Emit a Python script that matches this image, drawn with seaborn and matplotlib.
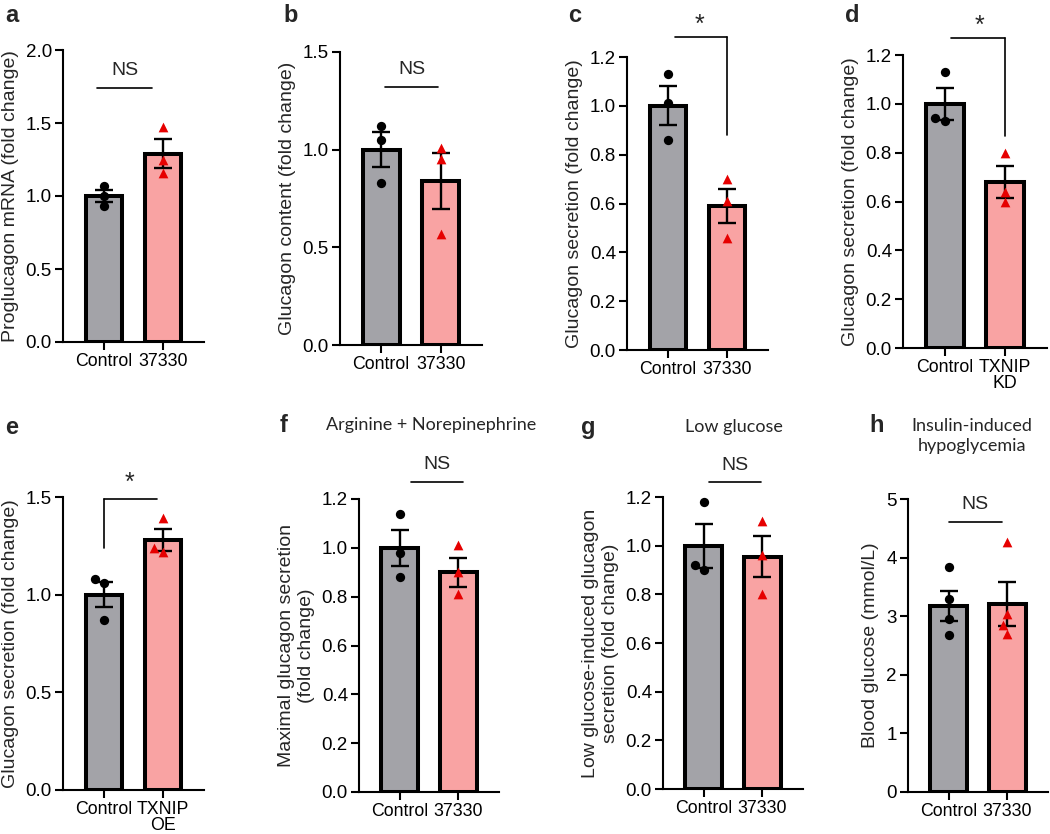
import matplotlib
matplotlib.use("Agg")
import matplotlib.pyplot as plt
import seaborn as sns
import numpy as np

sns.set_theme(style="ticks")
plt.rcParams['font.family'] = ['Liberation Sans', 'DejaVu Sans']

# ---- data (fold change, mean +/- SEM, individual points) ----
a_labels = ['Control', '37330']
a_ctrl = [1.07, 1.00, 0.93]
a_trt = [1.47, 1.25, 1.16]
a_means = [1.00, 1.29]
a_sems = [0.04, 0.10]

b_labels = ['Control', '37330']
b_ctrl = [1.12, 1.05, 0.83]
b_trt = [1.01, 0.95, 0.57]
b_means = [1.00, 0.84]
b_sems = [0.09, 0.145]

c_labels = ['Control', '37330']
c_ctrl = [1.13, 1.01, 0.86]
c_trt = [0.70, 0.61, 0.46]
c_means = [1.00, 0.59]
c_sems = [0.08, 0.07]

d_labels = ['Control', 'TXNIP\nKD']
d_ctrl = [1.13, 0.94, 0.93]
d_trt = [0.80, 0.64, 0.60]
d_means = [1.00, 0.68]
d_sems = [0.065, 0.065]

e_labels = ['Control', 'TXNIP\nOE']
e_ctrl = [1.06, 1.08, 0.87]
e_trt = [1.39, 1.22, 1.24]
e_means = [1.00, 1.28]
e_sems = [0.065, 0.058]

f_labels = ['Control', '37330']
f_ctrl = [1.14, 0.98, 0.88]
f_trt = [1.01, 0.90, 0.81]
f_means = [1.00, 0.90]
f_sems = [0.075, 0.06]

g_labels = ['Control', '37330']
g_ctrl = [1.18, 0.90, 0.92]
g_trt = [1.10, 0.96, 0.80]
g_means = [1.00, 0.955]
g_sems = [0.09, 0.085]

h_labels = ['Control', '37330']
h_ctrl = [3.84, 3.29, 2.95, 2.68]
h_trt = [4.27, 3.04, 2.85, 2.70]
h_means = [3.17, 3.21]
h_sems = [0.26, 0.38]

ylabels = {
    'a': 'Proglucagon mRNA (fold change)',
    'b': 'Glucagon content (fold change)',
    'c': 'Glucagon secretion (fold change)',
    'd': 'Glucagon secretion (fold change)',
    'e': 'Glucagon secretion (fold change)',
    'f': 'Maximal glucagon secretion\n(fold change)',
    'g': 'Low glucose-induced glucagon\nsecretion (fold change)',
    'h': 'Blood glucose (mmol/L)',
}

GRAY = '#A3A3A8'
PINK = '#F9A3A3'
RED = '#E60000'

W, H = 1050, 834
fig = plt.figure(figsize=(W / 100, H / 100), dpi=100)

# axes boxes in pixels: left, top, right, bottom
boxes = {
    'a': (63, 50, 204, 342), 'b': (340, 52, 482, 345),
    'c': (627, 57, 768, 350), 'd': (903, 55, 1047, 348),
    'e': (63, 497, 204, 790), 'f': (359, 499, 499, 792),
    'g': (663, 497, 803, 789), 'h': (908, 499, 1048, 792),
}

panels = {
    'a': (a_labels, a_ctrl, a_trt, a_means, a_sems, 2.0, 0.5),
    'b': (b_labels, b_ctrl, b_trt, b_means, b_sems, 1.5, 0.5),
    'c': (c_labels, c_ctrl, c_trt, c_means, c_sems, 1.2, 0.2),
    'd': (d_labels, d_ctrl, d_trt, d_means, d_sems, 1.2, 0.2),
    'e': (e_labels, e_ctrl, e_trt, e_means, e_sems, 1.5, 0.5),
    'f': (f_labels, f_ctrl, f_trt, f_means, f_sems, 1.2, 0.2),
    'g': (g_labels, g_ctrl, g_trt, g_means, g_sems, 1.2, 0.2),
    'h': (h_labels, h_ctrl, h_trt, h_means, h_sems, 5.0, 1.0),
}

axes = {}
for key, (labels, ctrl, trt, means, sems, ymax, step) in panels.items():
    l, t, r, b = boxes[key]
    ax = fig.add_axes([l / W, 1 - b / H, (r - l) / W, (b - t) / H])
    axes[key] = ax
    sns.barplot(x=labels, y=means, order=labels, palette=[GRAY, PINK], hue=labels,
                legend=False, width=0.62, edgecolor='black', linewidth=2.9,
                saturation=1, errorbar=None, ax=ax, zorder=2)
    ax.errorbar([0, 1], means, yerr=sems, fmt='none', ecolor='black',
                elinewidth=1.7, capsize=6.5, capthick=1.7, zorder=4)
    sns.swarmplot(x=[labels[0]] * len(ctrl), y=ctrl, order=labels, marker='o',
                  color='black', size=6.7, linewidth=0, ax=ax, zorder=5)
    sns.swarmplot(x=[labels[1]] * len(trt), y=trt, order=labels, marker='^',
                  color=RED, size=7, linewidth=0, ax=ax, zorder=5)
    ax.set_xlim(-0.69, 1.69)
    ax.set_ylim(0, ymax)
    ticks = np.arange(0, ymax + step / 2, step)
    ax.set_yticks(ticks)
    fmt = '{:.1f}' if step < 1 else '{:.0f}'
    ax.set_yticklabels([fmt.format(v) for v in ticks])
    ax.set_xlabel('')
    ax.set_ylabel(ylabels[key], fontsize=14, labelpad=5)
    sns.despine(ax=ax)
    for s in ['left', 'bottom']:
        ax.spines[s].set_linewidth(1.5)
        ax.spines[s].set_color('black')
    ax.tick_params(axis='both', width=1.5, length=6, color='black',
                   labelcolor='black', direction='out', pad=2)
    ax.tick_params(axis='y', labelsize=13.5)
    ax.tick_params(axis='x', labelsize=12.8, pad=2)
    for lab in ax.get_xticklabels():
        lab.set_linespacing(0.95)

# significance marks
def ns_line(ax, x0, x1, y, ytext):
    ax.plot([x0, x1], [y, y], color='black', lw=1.2, clip_on=False)
    ax.text((x0 + x1) / 2, ytext, 'NS', ha='center', va='center', fontsize=14)

def star_bracket(ax, x0, x1, y, leg_x, leg_y, xstar, ystar):
    ax.plot([x0, x1], [y, y], color='black', lw=1.2, clip_on=False)
    ax.plot([leg_x, leg_x], [y, leg_y], color='black', lw=1.2, clip_on=False)
    ax.text(xstar, ystar, '*', ha='center', va='center', fontsize=18)

ns_line(axes['a'], -0.11, 0.81, 1.74, 1.86)
ns_line(axes['b'], 0.07, 0.95, 1.32, 1.41)
star_bracket(axes['c'], 0.12, 1.0, 1.28, 1.0, 0.88, 0.53, 1.33)
star_bracket(axes['d'], 0.10, 1.0, 1.27, 1.0, 0.87, 0.57, 1.32)
star_bracket(axes['e'], 0.0, 0.90, 1.49, 0.0, 1.24, 0.44, 1.57)
ns_line(axes['f'], 0.20, 1.08, 1.27, 1.34)
ns_line(axes['g'], 0.10, 0.98, 1.26, 1.33)
ns_line(axes['h'], 0.0, 0.90, 4.61, 4.91)

# panel letters
letters = {'a': (5, 15), 'b': (283, 15), 'c': (568, 15), 'd': (845, 15),
           'e': (5, 427), 'f': (280, 425), 'g': (581, 427), 'h': (869, 425)}
for k, (x, y) in letters.items():
    fig.text(x / W, 1 - y / H, k, fontsize=17, fontweight='bold', ha='left', va='center')

# condition titles
title_font = ['Lato', 'DejaVu Sans']
fig.text(431 / W, 1 - 425 / H, 'Arginine + Norepinephrine', fontsize=13,
         ha='center', va='center', family=title_font)
fig.text(734 / W, 1 - 427 / H, 'Low glucose', fontsize=13,
         ha='center', va='center', family=title_font)
fig.text(972 / W, 1 - 436 / H, 'Insulin-induced\nhypoglycemia', fontsize=13,
         ha='center', va='center', family=title_font, linespacing=1.25)

fig.savefig('out.png', dpi=100)
